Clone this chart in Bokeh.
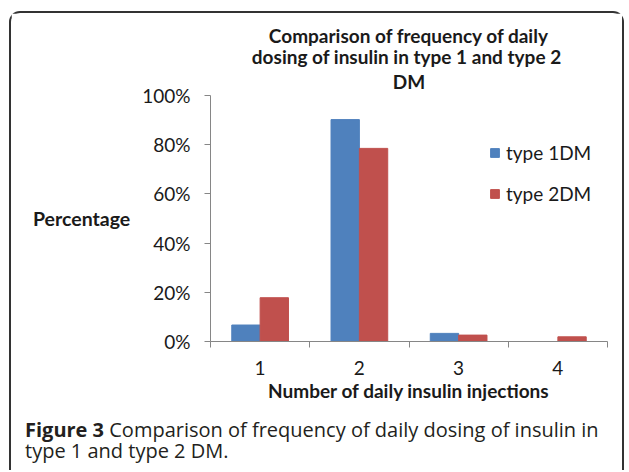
from bokeh.plotting import figure
from bokeh.layouts import column
from bokeh.models import (ColumnDataSource, Range1d, FixedTicker, NumeralTickFormatter,
                          Legend, LegendItem, Title, Div)
from bokeh.transform import dodge
from bokeh.embed import file_html
from bokeh.resources import INLINE

# ---- data ----
categories = [1, 2, 3, 4]
type1_pct = [6.7, 90.2, 3.3, 0.0]
type2_pct = [17.8, 78.5, 2.6, 1.9]
series_names = ["type 1DM", "type 2DM"]
y_ticks = [0, 0.2, 0.4, 0.6, 0.8, 1.0]

title_lines = ["Comparison of frequency of daily",
               "dosing of insulin  in type 1 and type 2",
               "DM"]
y_title = "Percentage"
x_title = "Number of daily insulin injections"
caption_bold = "Figure 3"
caption_rest = "Comparison of frequency of daily dosing of insulin in"
caption_line2 = "type 1 and type 2 DM."

BLUE = "#4F81BD"
RED = "#C0504D"
AXIS = "#868686"
TXT = "#1a1a1a"
CAPC = "#231f20"
CHART_FONT = "Lato"
CAP_FONT = "Open Sans"
FRAME_LINE = "2px solid #333333"

source = ColumnDataSource(dict(
    x=categories,
    t1=[v / 100 for v in type1_pct],
    t2=[v / 100 for v in type2_pct],
))

# page geometry of the plot frame
FL, FR, FT, FB = 210, 607, 95, 341
OX, OY = 11, 13          # canvas origin on page
W, H = 615, 398
CAP_TOP = OY + H         # page y where caption block starts
CAP_H = 472 - CAP_TOP

p = figure(width=W, height=H, output_backend="svg", toolbar_location=None,
           x_range=Range1d(0.5, 4.5), y_range=Range1d(0, 1),
           min_border_left=FL - OX, min_border_top=FT - OY,
           min_border_right=W - (FR - OX), min_border_bottom=H - (FB - OY),
           styles={"border-left": FRAME_LINE, "border-top": FRAME_LINE,
                   "border-right": FRAME_LINE,
                   "border-radius": "11px 11px 0 0",
                   "margin-left": "9px", "margin-top": "11px"})
p.outline_line_color = None
p.xgrid.visible = False
p.ygrid.visible = False
p.background_fill_color = "white"
p.border_fill_color = "white"

# chart title: one centred Title per line, added from the frame outward
for i, line in enumerate(reversed(title_lines)):
    p.add_layout(Title(text=line, align="center", offset=-3,
                       text_font=CHART_FONT, text_font_style="bold",
                       text_font_size="19px", text_color=TXT,
                       standoff=5 if i == 0 else -4), "above")

bw = 2 / 7
r1 = p.vbar(x=dodge("x", -bw / 2, range=p.x_range), top="t1", width=bw, source=source,
            fill_color=BLUE, line_color=BLUE)
r2 = p.vbar(x=dodge("x", bw / 2, range=p.x_range), top="t2", width=bw, source=source,
            fill_color=RED, line_color=RED)

# y axis
ya = p.yaxis[0]
ya.ticker = FixedTicker(ticks=y_ticks)
ya.formatter = NumeralTickFormatter(format="0%")
ya.axis_line_color = AXIS
ya.major_tick_line_color = AXIS
ya.major_tick_out = 6
ya.major_tick_in = 0
ya.minor_tick_line_color = None
ya.major_label_text_font = CHART_FONT
ya.major_label_text_font_size = "19px"
ya.major_label_text_color = TXT
ya.major_label_standoff = 14
ya.axis_label = y_title
ya.axis_label_orientation = "horizontal"
ya.axis_label_standoff = 9
ya.axis_label_text_font = CHART_FONT
ya.axis_label_text_font_style = "bold"
ya.axis_label_text_font_size = "19.5px"
ya.axis_label_text_color = TXT

# x axis
xa = p.xaxis[0]
xa.ticker = FixedTicker(ticks=categories,
                        minor_ticks=[c - 0.5 for c in categories] + [categories[-1] + 0.5])
xa.axis_line_color = AXIS
xa.major_tick_line_color = None
xa.major_tick_out = 0
xa.major_tick_in = 0
xa.minor_tick_line_color = AXIS
xa.minor_tick_out = 6
xa.minor_tick_in = 0
xa.major_label_text_font = CHART_FONT
xa.major_label_text_font_size = "19px"
xa.major_label_text_color = TXT
xa.major_label_standoff = 13
xa.axis_label = x_title
xa.axis_label_standoff = 1
xa.axis_label_text_font = CHART_FONT
xa.axis_label_text_font_style = "bold"
xa.axis_label_text_font_size = "19px"
xa.axis_label_text_color = TXT

legend = Legend(items=[LegendItem(label=series_names[0], renderers=[r1]),
                       LegendItem(label=series_names[1], renderers=[r2])],
                location=(279, 136), padding=0, margin=0, spacing=18,
                glyph_width=11, glyph_height=11, label_standoff=6,
                label_text_font=CHART_FONT, label_text_font_size="19px",
                label_text_color=TXT, border_line_color=None,
                background_fill_alpha=0)
p.add_layout(legend)

# ---- caption block below the chart ----
line_css = "height:21px;line-height:21px;overflow:visible;white-space:nowrap;"
cap_html = (
    f'<div style="font-family:\'{CAP_FONT}\';font-size:20px;'
    f'color:{CAPC};padding:10px 0 0 14px;">'
    f'<div style="{line_css}"><b>{caption_bold}</b> {caption_rest}</div>'
    f'<div style="{line_css}">{caption_line2}</div></div>'
)
cap = Div(text=cap_html, width=W, height=CAP_H, margin=(0, 0, 0, 9),
          styles={"border-left": FRAME_LINE, "border-right": FRAME_LINE,
                  "background-color": "white", "overflow": "hidden"})

layout = column(p, cap, spacing=0)
open("out.html", "w").write(file_html(layout, INLINE))
